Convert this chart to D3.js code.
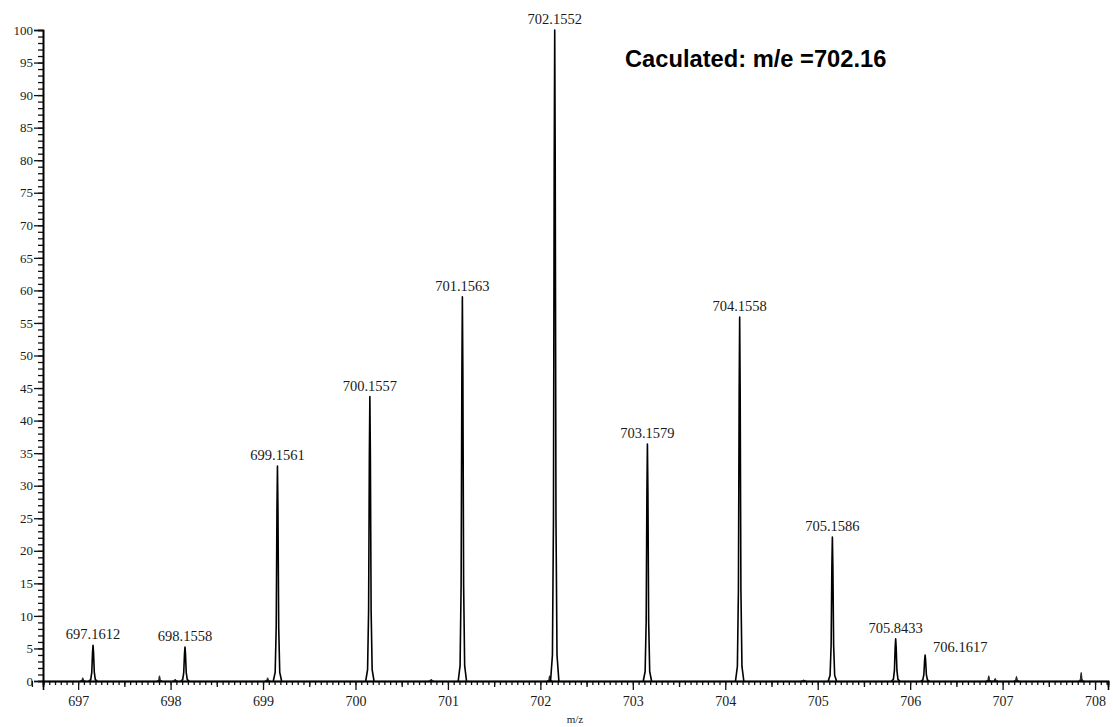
<!DOCTYPE html>
<html>
<head>
<meta charset="utf-8">
<script src="https://cdn.jsdelivr.net/npm/d3@7"></script>
<style>
  body { margin: 0; background: #fff; }
  svg { display: block; }
  .tick text { font-family: "Liberation Serif", "Times New Roman", serif; fill: #1a1a1a; }
</style>
</head>
<body>
<svg width="1113" height="727"></svg>
<script>
// labelled peaks (m/z, relative abundance)
var peakMz = [697.1612, 698.1558, 699.1561, 700.1557, 701.1563, 702.1552, 703.1579, 704.1558, 705.1586, 705.8433, 706.1617]
var peakInt = [5.5, 5.2, 33.0, 43.7, 59.0, 100, 36.4, 55.9, 22.1, 6.5, 4.0]
var peakLabel = ['697.1612', '698.1558', '699.1561', '700.1557', '701.1563', '702.1552', '703.1579', '704.1558', '705.1586', '705.8433', '706.1617']

// small unlabelled bumps along the baseline
var noiseMz = [697.05, 697.88, 698.05, 699.05, 700.82, 702.10, 704.85, 706.85, 706.92, 707.15, 707.85]
var noiseInt = [0.5, 0.8, 0.3, 0.5, 0.3, 0.8, 0.2, 0.8, 0.4, 0.7, 1.3]

var xTicks = [697, 698, 699, 700, 701, 702, 703, 704, 705, 706, 707, 708]
var yTicks = [0, 5, 10, 15, 20, 25, 30, 35, 40, 45, 50, 55, 60, 65, 70, 75, 80, 85, 90, 95, 100]

var svg = d3.select('svg')

var x = d3.scaleLinear().domain([696.62, 708.14]).range([43, 1108])
var y = d3.scaleLinear().domain([0, 100]).range([681, 30])

// peak outline template, relative to centre / height
function peakPath (m, h, hw) {
  var pts = [[m - hw, 0], [m - hw * 0.55, h * 0.04], [m - hw * 0.3, h * 0.25], [m - hw * 0.12, h * 0.8], [m, h],
    [m + hw * 0.12, h * 0.8], [m + hw * 0.3, h * 0.25], [m + hw * 0.55, h * 0.04], [m + hw, 0]]
  return d3.line().x(d => x(d[0])).y(d => y(d[1]))(pts)
}

// noise
svg.append('g').selectAll('path')
  .data(noiseMz)
  .enter()
  .append('path')
  .attr('d', (d, i) => peakPath(d, noiseInt[i], 0.03))
  .attr('fill', '#333')
  .attr('stroke', '#222')
  .attr('stroke-width', 1)

// peaks
svg.append('g').selectAll('path')
  .data(peakMz)
  .enter()
  .append('path')
  .attr('d', (d, i) => peakPath(d, peakInt[i], 0.045))
  .attr('fill', 'none')
  .attr('stroke', '#000')
  .attr('stroke-width', 1.6)
  .attr('stroke-linejoin', 'round')

// peak labels
svg.append('g').selectAll('text')
  .data(peakMz)
  .enter()
  .append('text')
  .attr('x', (d, i) => i === 10 ? x(d) + 8 : x(d))
  .attr('y', (d, i) => i === 10 ? y(peakInt[i]) - 3 : y(peakInt[i]) - 6)
  .attr('text-anchor', (d, i) => i === 10 ? 'start' : 'middle')
  .style('font-family', '"Liberation Serif", "Times New Roman", serif')
  .style('font-size', '14.5px')
  .style('fill', '#1a1a1a')
  .text((d, i) => peakLabel[i])

// y axis
svg.append('g').attr('transform', 'translate(43,0)')
  .call(d3.axisLeft(y).tickValues(d3.range(0, 101, 1)).tickSize(5).tickFormat(''))
var yMajor = svg.append('g').attr('transform', 'translate(43,0)')
  .call(d3.axisLeft(y).tickValues(yTicks).tickSize(9).tickPadding(1))
yMajor.selectAll('text').style('font-size', '13px')

// x axis
svg.append('g').attr('transform', 'translate(0,681)')
  .call(d3.axisBottom(x).tickValues(d3.range(696.625, 708.14, 0.0625)).tickSize(4).tickFormat(''))
svg.append('g').attr('transform', 'translate(0,681)')
  .call(d3.axisBottom(x).tickValues(d3.range(696.5, 708.14, 1)).tickSize(6).tickFormat(''))
var xMajor = svg.append('g').attr('transform', 'translate(0,681)')
  .call(d3.axisBottom(x).tickValues(xTicks).tickSize(9).tickPadding(6).tickFormat(d3.format('d')))
xMajor.selectAll('text').style('font-size', '14px')

svg.selectAll('.domain').attr('stroke', '#000').attr('stroke-width', 1.6)
svg.selectAll('.tick line').attr('stroke', '#111').attr('stroke-width', 1.3)

// axis title
svg.append('text')
  .attr('x', 575)
  .attr('y', 723)
  .attr('text-anchor', 'middle')
  .style('font-family', '"Liberation Serif", "Times New Roman", serif')
  .style('font-size', '11px')
  .style('fill', '#1a1a1a')
  .text('m/z')

// annotation
svg.append('text')
  .attr('x', 625)
  .attr('y', 67)
  .style('font-family', '"Liberation Sans", Arial, sans-serif')
  .style('font-weight', 'bold')
  .style('font-size', '23.7px')
  .style('fill', '#000')
  .text('Caculated: m/e =702.16')
</script>
</body>
</html>
